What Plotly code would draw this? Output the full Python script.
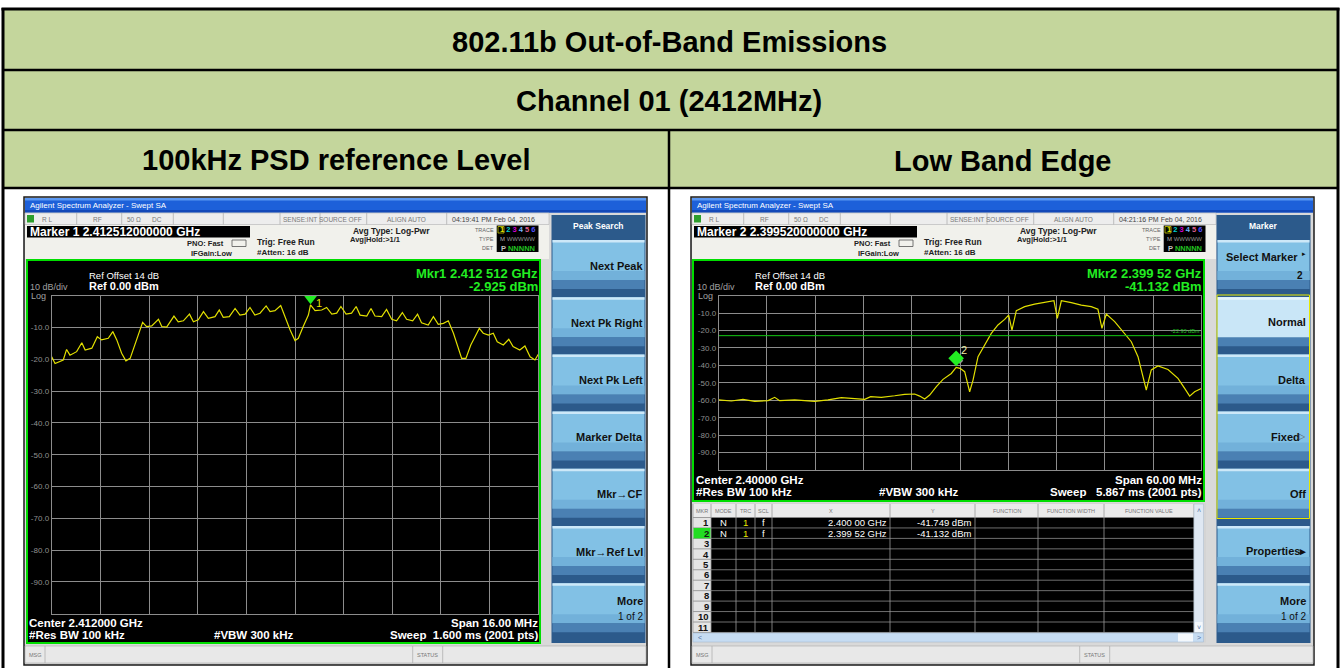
import plotly.graph_objects as go

W, H = 1341, 668
FONT = "Liberation Sans, Arial, Helvetica, sans-serif"

# ---------------- data ----------------
table_title = "802.11b Out-of-Band Emissions"
table_channel = "Channel 01 (2412MHz)"
panel_titles = ["100kHz PSD reference Level", "Low Band Edge"]

left_freq_mhz = [2404.00, 2404.11, 2404.38, 2404.49, 2404.60, 2404.82, 2404.99, 2405.10, 2405.32, 2405.50,
                 2405.64, 2405.86, 2406.01, 2406.14, 2406.30, 2406.44, 2406.58, 2406.74, 2406.99, 2407.12,
                 2407.29, 2407.51, 2407.62, 2407.78, 2408.02, 2408.16, 2408.33, 2408.53, 2408.66, 2408.82,
                 2408.99, 2409.15, 2409.37, 2409.51, 2409.64, 2409.84, 2410.03, 2410.19, 2410.36, 2410.52,
                 2410.68, 2410.85, 2411.05, 2411.18, 2411.34, 2411.53, 2411.67, 2411.84, 2412.00, 2412.11,
                 2412.27, 2412.44, 2412.51, 2412.66, 2412.88, 2413.04, 2413.21, 2413.37, 2413.51, 2413.68,
                 2413.86, 2414.01, 2414.14, 2414.36, 2414.50, 2414.63, 2414.85, 2415.01, 2415.18, 2415.34,
                 2415.53, 2415.67, 2415.87, 2416.03, 2416.16, 2416.38, 2416.55, 2416.71, 2416.88, 2417.04,
                 2417.21, 2417.37, 2417.48, 2417.62, 2417.78, 2417.92, 2418.06, 2418.19, 2418.36, 2418.52,
                 2418.65, 2418.85, 2419.03, 2419.17, 2419.39, 2419.56, 2419.73, 2419.89, 2420.00]
left_level_dbm = [-19.2, -21.3, -20.2, -16.9, -18.7, -17.6, -14.8, -17.1, -16.5, -12.9,
                  -13.9, -13.4, -11.3, -13.9, -18.1, -20.5, -19.7, -15.5, -8.4, -9.7,
                  -9.5, -7.4, -9.7, -9.9, -6.4, -8.2, -7.9, -5.8, -8.2, -7.6,
                  -5.0, -7.1, -6.6, -4.5, -6.8, -6.6, -4.0, -6.1, -5.8, -3.7,
                  -6.1, -5.5, -3.2, -5.0, -4.7, -3.1, -6.6, -10.8, -14.1, -13.4,
                  -9.7, -6.1, -2.9, -4.7, -4.5, -3.7, -5.8, -5.5, -3.4, -5.8,
                  -5.5, -3.4, -6.1, -6.4, -4.0, -6.4, -6.6, -4.3, -7.4, -7.9,
                  -5.3, -7.4, -7.9, -5.8, -8.5, -9.2, -6.6, -9.0, -8.7, -7.9,
                  -11.8, -16.5, -19.7, -19.7, -15.5, -12.9, -10.3, -11.8, -12.4, -11.8,
                  -14.5, -15.5, -13.7, -16.0, -17.1, -15.8, -19.2, -20.2, -18.4]

right_freq_mhz = [2370.00, 2371.57, 2373.02, 2374.48, 2376.13, 2376.96, 2377.58, 2379.45, 2381.93, 2383.59,
                  2385.25, 2386.91, 2388.15, 2388.89, 2390.22, 2391.88, 2393.12, 2394.36, 2394.99, 2395.61,
                  2396.23, 2397.06, 2397.89, 2398.92, 2399.52, 2400.00, 2400.58, 2401.20, 2401.62, 2402.24,
                  2403.07, 2403.89, 2404.72, 2405.55, 2406.05, 2406.46, 2407.00, 2408.04, 2409.28, 2410.52,
                  2411.68, 2412.10, 2412.60, 2413.84, 2415.08, 2416.32, 2417.15, 2417.65, 2418.19, 2419.23,
                  2420.47, 2421.30, 2422.13, 2422.62, 2423.16, 2423.78, 2424.61, 2425.86, 2427.10, 2427.93,
                  2428.55, 2429.17, 2430.00]
right_level_dbm = [-59.8, -60.4, -59.5, -60.6, -60.2, -58.3, -60.2, -59.8, -60.6, -59.8,
                   -58.5, -58.9, -59.5, -57.9, -58.3, -57.4, -56.6, -56.4, -57.6, -59.3,
                   -57.0, -52.2, -48.0, -44.6, -41.1, -41.7, -43.6, -55.1, -48.4, -35.0,
                   -28.3, -21.6, -16.8, -13.6, -11.1, -19.7, -8.6, -6.3, -4.8, -4.0,
                   -2.9, -13.0, -2.9, -4.0, -5.4, -6.3, -7.8, -18.7, -10.5, -14.9,
                   -21.6, -26.4, -35.0, -44.6, -54.1, -42.6, -40.3, -42.3, -47.4, -53.2,
                   -57.6, -55.1, -53.2]

left_span_mhz = [2404.0, 2420.0]
right_span_mhz = [2370.0, 2430.0]
left_div_mhz = 1.6
right_div_mhz = 6.0
level_range_dbm = [-100.0, 0.0]
level_ticks = [-10, -20, -30, -40, -50, -60, -70, -80, -90]
level_tick_labels = ["-10.0", "-20.0", "-30.0", "-40.0", "-50.0", "-60.0", "-70.0", "-80.0", "-90.0"]

left_marker_freq_mhz = [2412.512]
left_marker_level_dbm = [-2.925]
right_marker_freq_mhz = [2399.52, 2400.00]   # marker 2 (active), marker 1
right_marker_level_dbm = [-41.132, -41.749]
display_line_dbm = -22.93

table_rows = ["1", "2", "3", "4", "5", "6", "7", "8", "9", "10", "11"]
table_mode = ["N", "N"]
table_trc = ["1", "1"]
table_scl = ["f", "f"]
table_x = ["2.400 00 GHz", "2.399 52 GHz"]
table_y = ["-41.749 dBm", "-41.132 dBm"]
table_headers = ["MKR", "MODE", "TRC", "SCL", "X", "Y", "FUNCTION", "FUNCTION WIDTH", "FUNCTION VALUE"]

left_softkeys = ["Next Peak", "Next Pk Right", "Next Pk Left", "Marker Delta", "Mkr\u2192CF", "Mkr\u2192Ref Lvl", "More"]
right_softkeys = ["Select Marker", "Normal", "Delta", "Fixed", "Off", "Properties\u25b8", "More"]

# ---------------- helpers (pixel -> paper) ----------------
shapes = []
annotations = []


def rect(x0, y0, x1, y1, fill=None, line=None, lw=1.0):
    shapes.append(dict(type="rect", xref="paper", yref="paper", layer="below",
                       x0=x0 / W, x1=x1 / W, y0=1 - y1 / H, y1=1 - y0 / H,
                       fillcolor=fill if fill else "rgba(0,0,0,0)",
                       line=dict(color=line if line else "rgba(0,0,0,0)", width=lw if line else 0)))


def seg(x0, y0, x1, y1, color, lw):
    shapes.append(dict(type="line", xref="paper", yref="paper", layer="below",
                       x0=x0 / W, x1=x1 / W, y0=1 - y0 / H, y1=1 - y1 / H,
                       line=dict(color=color, width=lw)))


def text(x, y, s, size, color="#000000", bold=False, anchor="left", family=FONT):
    annotations.append(dict(xref="paper", yref="paper", x=x / W, y=1 - y / H,
                            text=("<b>%s</b>" % s) if bold else s, showarrow=False,
                            xanchor=anchor, yanchor="middle", borderpad=0,
                            font=dict(size=size, color=color, family=family)))


# ---------------- table ----------------
GREEN_CELL = "#c4d69c"
rect(3, 9, 1338, 70, GREEN_CELL)
rect(3, 70, 1338, 130, GREEN_CELL)
rect(3, 130, 669, 188, GREEN_CELL)
rect(669, 130, 1338, 188, GREEN_CELL)
seg(1.5, 9, 1339.5, 9, "#000000", 3)
seg(3, 8, 3, 668, "#000000", 3)
seg(1338, 8, 1338, 668, "#000000", 3)
seg(3, 70, 1338, 70, "#000000", 2.5)
seg(3, 130, 1338, 130, "#000000", 2.5)
seg(3, 188, 1338, 188, "#000000", 2.5)
seg(669, 130, 669, 668, "#000000", 2.5)
text(669, 42.5, table_title, 29, "#000000", True, "center")
text(669, 101, table_channel, 29, "#000000", True, "center")
text(336, 159.5, panel_titles[0], 29, "#000000", True, "center")
text(1003, 161, panel_titles[1], 29, "#000000", True, "center")

# ---------------- analyzer chrome ----------------
MKRG = "#22ee22"
TRACE = "#e2e000"


def chrome(ox, sk, date_str, marker_str, softkey_title):
    rect(24 + ox, 197, 647 + ox, 665, "#d9d9d9", "#1a1a1a", 1.5)
    # title bar
    rect(25 + ox, 198, 646 + ox, 212.5, "#1d60d9")
    rect(25 + ox, 198, 646 + ox, 200.5, "#5b98f2")
    rect(25 + ox, 210, 646 + ox, 212.5, "#1348b8")
    text(29 + ox, 205.3, "Agilent Spectrum Analyzer - Swept SA", 8, "#ffffff")
    # status row
    rect(25 + ox, 213, 549 + ox, 224.5, "#ededed", "#b8b8b8", 0.6)
    for sx in [76.7, 121.7, 173.3, 223.3, 280, 320, 366.7, 446.7]:
        seg(sx + ox, 213, sx + ox, 224.5, "#b0b0b0", 0.8)
    rect(27 + ox, 215, 34 + ox, 222.5, "#2d9e2d")
    st = "#7a7a7a"
    text(41 + ox, 219, "R L", 6.5, st)
    text(97 + ox, 219, "RF", 6.5, st, anchor="center")
    text(134 + ox, 219, "50 \u03a9", 6.5, st, anchor="center")
    text(157 + ox, 219, "DC", 6.5, st, anchor="center")
    text(300 + ox, 219, "SENSE:INT", 6.5, st, anchor="center")
    text(340 + ox, 219, "SOURCE OFF", 6.5, st, anchor="center")
    text(406.5 + ox, 219, "ALIGN AUTO", 6.5, st, anchor="center")
    text(493 + ox, 219, date_str, 7, "#444444", anchor="center")
    # header area
    rect(25 + ox, 225, 549 + ox, 259, "#f1f1ec")
    rect(27 + ox, 226, 250 + ox, 237.5, "#000000")
    text(29 + ox, 231.8, marker_str, 12, "#ffffff", True)
    text(225 + ox, 243.5, "PNO: Fast", 7.5, "#222222", True, "right")
    rect(232 + ox, 240, 246 + ox, 246.5, None, "#555555", 0.8)
    text(233 + ox, 253.5, "IFGain:Low", 7.5, "#222222", True, "right")
    text(256 + ox, 242, "Trig: Free Run", 8.5, "#222222", True)
    text(256 + ox, 253, "#Atten: 16 dB", 8, "#222222", True)
    text(352 + ox, 230.8, "Avg Type: Log-Pwr", 8.5, "#222222", True)
    text(349 + ox, 240, "Avg|Hold:>1/1", 7.5, "#222222", True)
    text(495 + ox, 229.5, "TRACE", 5.5, "#666666", anchor="right")
    text(495 + ox, 238.8, "TYPE", 5.5, "#666666", anchor="right")
    text(495 + ox, 247.8, "DET", 5.5, "#666666", anchor="right")
    rect(496.7 + ox, 225.5, 538.5 + ox, 252, "#000000")
    rect(498 + ox, 226.5, 504 + ox, 233, None, "#c8c800", 0.8)
    row1 = ('<span style="color:#e0e000">1</span> <span style="color:#00d0d0">2</span> '
            '<span style="color:#d000d0">3</span> <span style="color:#70b0ff">4</span> '
            '<span style="color:#e06090">5</span> <span style="color:#5050ff">6</span>')
    text(517.6 + ox, 229.8, "<b>" + row1 + "</b>", 7.5, "#ffffff", anchor="center")
    text(517.6 + ox, 239, 'M <span style="color:#909090">WWWWW</span>', 6, "#b0b0b0", anchor="center")
    text(517.6 + ox, 248, '<b>P <span style="color:#20c020">NNNNN</span></b>', 7.5, "#c0c0c0", anchor="center")
    # softkey panel
    rect(551.5 + sk, 215, 645.5 + sk, 643, "#2c5a8b")
    text(598.5 + sk, 226.5, softkey_title, 8.5, "#ffffff", True, "center")
    for i in range(7):
        top = 240 + i * 57.2
        rect(552.5 + sk, top, 644.5 + sk, top + 40, "#82c1e5")
        rect(552.5 + sk, top, 644.5 + sk, top + 2.5, "#cde8f8")
        rect(552.5 + sk, top + 31, 644.5 + sk, top + 40, "#72b1da")
        rect(552.5 + sk, top + 40, 644.5 + sk, top + 49, "#4a80b3")
    # message bar
    rect(25 + ox, 646, 646 + ox, 663, "#e8e8e8", "#a8a8a8", 0.6)
    seg(45 + ox, 646, 45 + ox, 663, "#b0b0b0", 0.8)
    seg(412.7 + ox, 646, 412.7 + ox, 663, "#b0b0b0", 0.8)
    seg(442.7 + ox, 646, 442.7 + ox, 663, "#b0b0b0", 0.8)
    text(28 + ox, 654.5, "MSG", 5.5, "#777777")
    text(427.7 + ox, 654.5, "STATUS", 5.5, "#777777", anchor="center")


def display_texts(ox, gr, mk_freq, mk_lvl, bottom_y, center_s, span_s, sweep_s, vbw_x):
    text(87.5 + ox, 275.8, "Ref Offset 14 dB", 9.5, "#ffffff")
    text(87.5 + ox, 286.3, "Ref 0.00 dBm", 11, "#ffffff", True)
    text(29 + ox, 287, "10 dB/div", 9, "#a0a0a0")
    text(30 + ox, 296.3, "Log", 9, "#a0a0a0")
    text(gr, 273.8, mk_freq, 13, MKRG, True, "right")
    text(gr, 286.2, mk_lvl, 13, MKRG, True, "right")
    text(27.5 + ox, bottom_y, center_s, 11.5, "#ffffff", True)
    text(27.5 + ox, bottom_y + 12.3, "#Res BW 100 kHz", 11.5, "#ffffff", True)
    text(vbw_x, bottom_y + 12.3, "#VBW 300 kHz", 11.5, "#ffffff", True, "center")
    text(gr, bottom_y, span_s, 11.5, "#ffffff", True, "right")
    text(gr, bottom_y + 12.3, sweep_s, 11.5, "#ffffff", True, "right")


# ---- left analyzer ----
chrome(0, 0, "04:19:41 PM Feb 04, 2016", "Marker 1 2.412512000000 GHz", "Peak Search")
rect(27, 260, 540, 643, "#000000", "#00dd00", 2)
display_texts(0, 539, "Mkr1 2.412 512 GHz", "-2.925 dBm", 623, "Center 2.412000 GHz",
              "Span 16.00 MHz", "Sweep  1.600 ms (2001 pts)", 254)
for i, lab in enumerate(left_softkeys):
    top = 240 + i * 57.2
    if lab == "More":
        text(643.5, top + 18, "More", 11, "#111111", True, "right")
        text(643.5, top + 33, "1 of 2", 10, "#111111", False, "right")
    else:
        text(643.5, top + 25.5, lab, 11, "#111111", True, "right")

# ---- right analyzer ----
OX = 667
chrome(OX, 665, "04:21:16 PM Feb 04, 2016", "Marker 2 2.399520000000 GHz", "Marker")
rect(693, 260, 1204, 501, "#000000", "#00dd00", 2)
display_texts(OX, 1202.5, "Mkr2 2.399 52 GHz", "-41.132 dBm", 479.5, "Center 2.40000 GHz",
              "Span 60.00 MHz", "Sweep   5.867 ms (2001 pts)", 919)
text(1201, 331.3, "-22.93 dBm", 5.5, "#20c020", anchor="right")
# Normal highlighted + yellow group outline
rect(1217.5, 297.2, 1309.5, 337.2, "#c9e6f7")
rect(1217.5, 297.2, 1309.5, 299.7, "#e6f4fc")
rect(1217, 295, 1309.5, 518.5, None, "#e8e800", 1)
SR = 1307
text(1299, 256.5, "Select Marker", 11, "#111111", True, "right")
text(SR, 254, "\u25b8", 7, "#111111", False, "right")
text(SR - 3, 275, "2", 10, "#111111", True, "right")
text(SR, 321.7, right_softkeys[1], 11, "#111111", True, "right")
text(SR, 380, right_softkeys[2], 11, "#111111", True, "right")
text(SR - 6, 436.7, right_softkeys[3], 11, "#111111", True, "right")
text(SR, 436.7, "\u25b7", 8, "#555555", False, "right")
text(SR, 493.5, right_softkeys[4], 11, "#111111", True, "right")
text(SR, 550.5, right_softkeys[5], 11, "#111111", True, "right")
text(SR, 601, "More", 11, "#111111", True, "right")
text(SR, 616, "1 of 2", 10, "#111111", False, "right")

# marker table
rect(692.5, 503, 1206, 642.5, "#d4d4d4")
rect(693, 504, 1194, 517.5, "#eaeaea")
cols = [693, 711, 736, 755, 772, 890, 975, 1038, 1104, 1194]
rect(711, 517.5, 1194, 632.5, "#000000")
rect(693, 517.5, 711, 632.5, "#e4e4e4")
RH = 10.45
for i in range(12):
    yy = 517.5 + i * RH
    seg(693, yy, 1194, yy, "#8a8a8a", 0.8)
for cx in cols:
    seg(cx, 504, cx, 632.5, "#9a9a9a", 0.8)
for j, h in enumerate(table_headers):
    text((cols[j] + cols[j + 1]) / 2, 511, h, 5.5, "#777777", anchor="center")
rect(693.5, 517.5 + RH, 710.5, 517.5 + 2 * RH, "#22dd22")
for i, r in enumerate(table_rows):
    text(709.5, 517.5 + (i + 0.5) * RH, r, 9.5, "#111111", True, "right")
for i in range(len(table_mode)):
    cy = 517.5 + (i + 0.5) * RH
    text(723.5, cy, table_mode[i], 9.5, "#ffffff", False, "center")
    text(745.5, cy, table_trc[i], 9.5, "#e8e800", False, "center")
    text(763.5, cy, table_scl[i], 9.5, "#ffffff", False, "center")
    text(888, cy, table_x[i], 9.5, "#ffffff", False, "right")
    text(972, cy, table_y[i], 9.5, "#ffffff", False, "right")
# scrollbars
rect(1194, 504, 1203.5, 632.5, "#dfe8f3", "#b0c0d0", 0.6)
rect(1195, 622, 1202.5, 632, "#f4f8fc")
text(1198.8, 511, "\u02c4", 7, "#5070a0", anchor="center")
text(1198.8, 627, "\u02c5", 7, "#5070a0", anchor="center")
rect(693, 633, 1203.5, 642, "#c6dcf2", "#a8bcd2", 0.6)
rect(1178, 633.5, 1193, 641.5, "#f4f8fc")
text(697, 637.5, "<", 7, "#5070a0")
text(1199, 637.5, ">", 7, "#5070a0", anchor="center")

# ---------------- figure ----------------
fig = go.Figure()
fig.add_trace(go.Scatter(x=left_freq_mhz, y=left_level_dbm, mode="lines",
                         line=dict(color=TRACE, width=1.2), xaxis="x", yaxis="y", hoverinfo="skip"))
fig.add_trace(go.Scatter(x=right_freq_mhz, y=right_level_dbm, mode="lines",
                         line=dict(color=TRACE, width=1.2), xaxis="x2", yaxis="y2", hoverinfo="skip"))
fig.add_trace(go.Scatter(x=right_span_mhz, y=[display_line_dbm, display_line_dbm], mode="lines",
                         line=dict(color="#14c814", width=1), xaxis="x2", yaxis="y2", hoverinfo="skip"))
# markers
fig.add_trace(go.Scatter(x=left_marker_freq_mhz, y=[v + 2.0 for v in left_marker_level_dbm], mode="markers",
                         marker=dict(symbol="triangle-down", size=11, color=MKRG),
                         xaxis="x", yaxis="y", cliponaxis=False, hoverinfo="skip"))
fig.add_trace(go.Scatter(x=right_marker_freq_mhz[1:], y=[v + 4.4 for v in right_marker_level_dbm[1:]],
                         mode="markers", marker=dict(symbol="diamond", size=5, color="#9a9a9a"),
                         xaxis="x2", yaxis="y2", hoverinfo="skip"))
fig.add_trace(go.Scatter(x=right_marker_freq_mhz[:1], y=[v + 5.2 for v in right_marker_level_dbm[:1]],
                         mode="markers", marker=dict(symbol="diamond", size=12, color=MKRG),
                         xaxis="x2", yaxis="y2", hoverinfo="skip"))
annotations.append(dict(xref="x", yref="y", x=left_marker_freq_mhz[0], y=left_marker_level_dbm[0] + 2.0,
                        text="1", showarrow=False, xshift=8, yshift=-4,
                        font=dict(size=11, color="#e8e800", family=FONT)))
annotations.append(dict(xref="x2", yref="y2", x=right_marker_freq_mhz[0], y=right_marker_level_dbm[0] + 5.2,
                        text="2", showarrow=False, xshift=8, yshift=8,
                        font=dict(size=11, color="#eeeeaa", family=FONT)))

grid = "#8c8c8c"


def xax(domain, rng, dt):
    return dict(domain=domain, range=rng, tick0=rng[0], dtick=dt, showgrid=True, gridcolor=grid,
                gridwidth=1, showticklabels=False, ticks="", zeroline=False, showline=True,
                mirror=True, linecolor=grid, linewidth=1, fixedrange=True)


def yax(domain):
    return dict(domain=domain, range=level_range_dbm, tickvals=level_ticks, ticktext=level_tick_labels,
                tickfont=dict(size=8, color="#909090", family=FONT), showgrid=True, gridcolor=grid,
                gridwidth=1, ticks="", zeroline=False, showline=True, mirror=True, linecolor=grid,
                linewidth=1, fixedrange=True)


fig.update_layout(
    width=W, height=H, margin=dict(l=0, r=0, t=0, b=0, pad=0),
    paper_bgcolor="#ffffff", plot_bgcolor="#000000", showlegend=False,
    xaxis=dict(xax([51.7 / W, 538.3 / W], left_span_mhz, left_div_mhz), anchor="y"),
    yaxis=dict(yax([1 - 613.7 / H, 1 - 295.7 / H]), anchor="x"),
    xaxis2=dict(xax([718.7 / W, 1201.3 / W], right_span_mhz, right_div_mhz), anchor="y2"),
    yaxis2=dict(yax([1 - 470.0 / H, 1 - 295.7 / H]), anchor="x2"),
    shapes=shapes, annotations=annotations,
    font=dict(family=FONT),
)

fig.write_html("out.html", config={"displayModeBar": False},
               post_script="document.body.style.margin='0';document.body.style.overflow='hidden';")
